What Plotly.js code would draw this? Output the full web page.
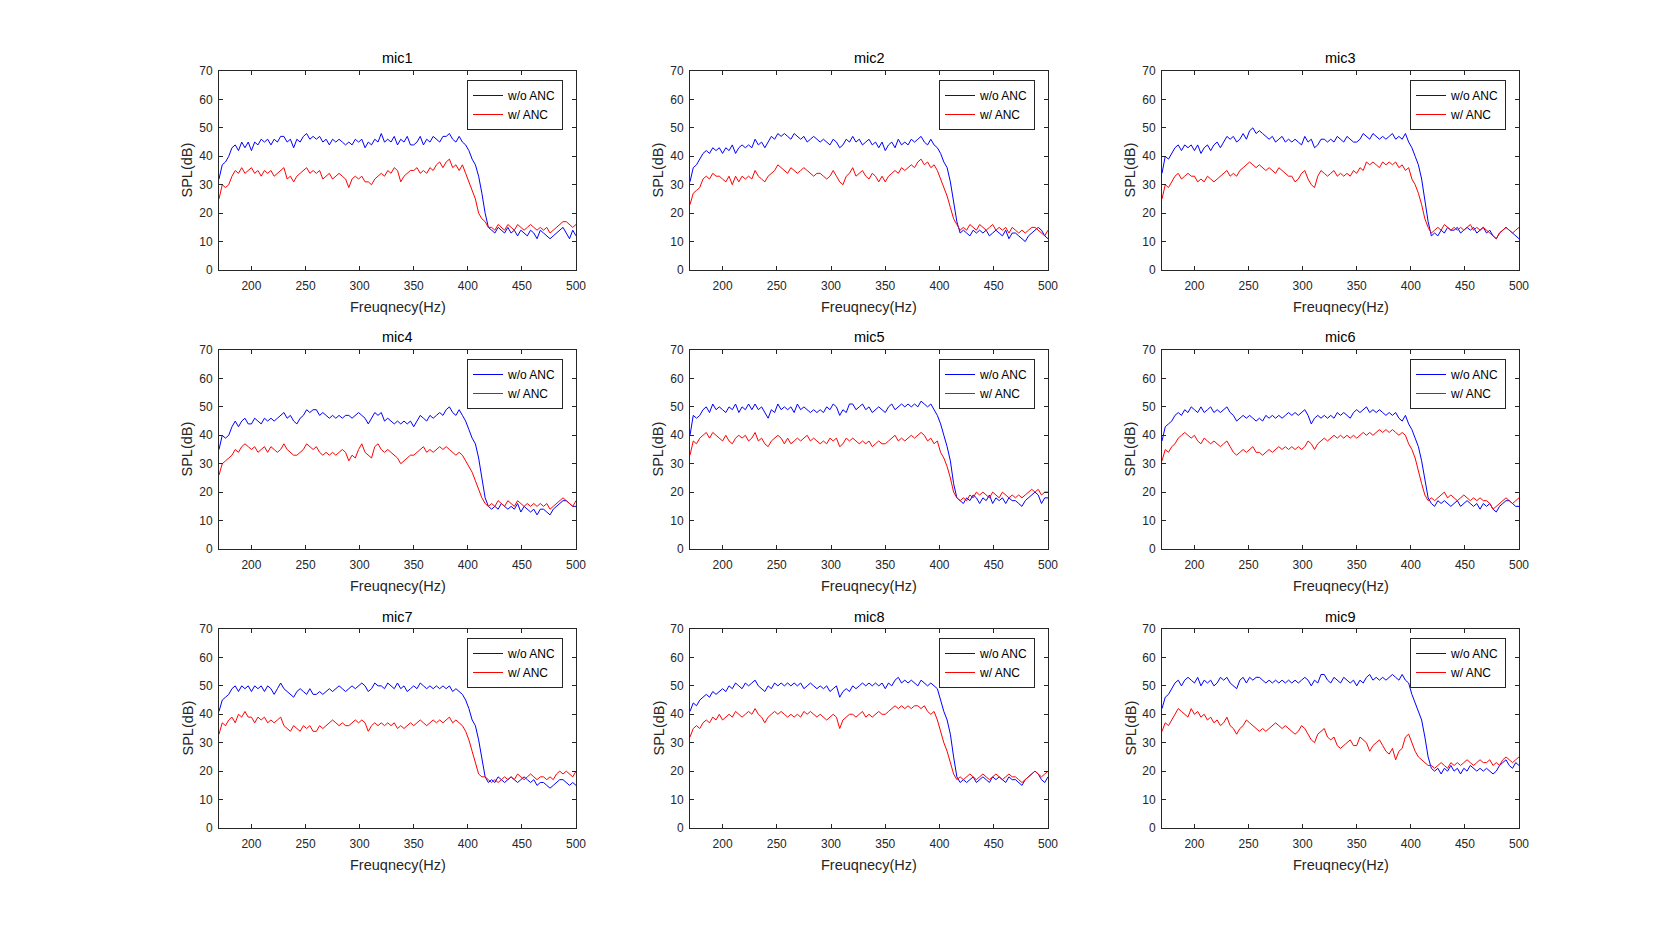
<!DOCTYPE html>
<html>
<head>
<meta charset="utf-8">
<script src="https://cdn.plot.ly/plotly-3.0.1.min.js"></script>
<style>html,body{margin:0;padding:0;background:#fff;}#chart{width:1680px;height:932px;}</style>
</head>
<body>
<div id="chart"></div>
<script>
// Frequency axis (Hz)
const freq = [170,173,176,179,182,185,188,191,194,197,200,203,206,209,212,215,218,221,224,227,230,233,236,239,242,245,248,251,254,257,260,263,266,269,272,275,278,281,284,287,290,293,296,299,302,305,308,311,314,317,320,323,326,329,332,335,338,341,344,347,350,353,356,359,362,365,368,371,374,377,380,383,386,389,392,395,398,401,404,407,410,413,416,419,422,425,428,431,434,437,440,443,446,449,452,455,458,461,464,467,470,473,476,479,482,485,488,491,494,497,500];

const micNames = ["mic1","mic2","mic3","mic4","mic5","mic6","mic7","mic8","mic9"];
const seriesNames = ["w/o ANC","w/ ANC"];
const xTicks = [200,250,300,350,400,450,500];
const yTicks = [0,10,20,30,40,50,60,70];

const mic1_woANC = [32,37,38,40,43,44,42,45,43,45, 42,45,44,46,45,46,44,46,45,47, 47,45,46,43,46,45,47,48,46,47, 46,47,45,46,44,46,45,46,45,44, 45,44,46,45,46,43,45,44,46,45, 48,45,46,45,47,44,46,45,47,44, 44,45,47,44,46,45,47,46,45,47, 47,48,46,45,47,45,44,42,39,37, 33,27,20,15,14,13,15,14,13,15, 13,14,12,14,13,12,14,13,11,14, 13,12,11,12,13,14,15,13,11,14, 12];
const mic1_wANC = [25,30,29,30,33,35,34,36,34,35, 36,34,35,33,35,34,35,33,34,35, 36,32,33,31,33,34,35,36,34,35, 34,35,32,33,34,32,33,34,33,32, 29,32,33,32,33,31,31,30,32,33, 34,33,35,34,36,35,31,33,34,35, 35,36,34,35,34,36,35,37,38,36, 38,39,36,37,35,37,34,31,28,25, 20,18,17,15,15,14,16,15,14,16, 15,14,16,15,14,15,16,15,14,15, 14,15,13,14,15,16,17,17,16,15, 16];

const mic2_woANC = [31,36,37,39,41,42,41,43,42,43, 41,43,42,44,41,43,44,43,44,43, 46,44,45,43,45,47,46,48,47,48, 47,46,48,47,46,47,45,46,47,46, 45,46,45,44,46,45,43,44,46,45, 47,45,46,44,45,46,44,45,43,45, 42,44,45,43,46,44,45,44,46,45, 46,47,45,44,46,44,43,41,38,36, 31,24,17,13,14,13,12,14,13,14, 13,14,12,13,14,13,12,14,11,13, 13,12,11,10,12,13,14,15,14,12, 11];
const mic2_wANC = [23,27,28,29,32,33,32,34,33,33, 32,31,33,30,33,31,33,32,33,32, 35,33,32,31,33,34,35,37,36,35, 34,36,35,34,35,36,35,34,33,34, 34,33,32,33,35,33,31,30,33,34, 36,33,34,35,33,32,34,33,31,33, 31,33,34,35,34,36,35,36,37,36, 38,39,37,38,36,37,35,32,29,26, 22,18,16,14,15,14,16,15,14,16, 15,14,15,16,14,15,14,15,13,15, 14,13,14,13,14,15,15,14,13,12, 14];

const mic3_woANC = [34,40,39,41,43,44,42,44,43,44, 42,44,41,43,44,42,44,45,43,45, 47,46,47,45,46,48,46,49,50,48, 49,48,47,46,47,45,46,47,45,46, 45,46,45,44,47,45,46,43,44,46, 46,45,46,45,47,46,45,47,46,45, 45,46,48,47,46,48,47,46,47,46, 47,48,46,47,46,48,45,43,40,37, 32,24,17,12,13,12,14,13,15,14, 14,15,13,14,15,14,15,13,14,15, 13,14,12,11,13,14,15,14,13,12, 11];
const mic3_wANC = [25,30,29,31,33,34,32,33,34,33, 33,31,32,31,33,32,31,32,33,34, 35,33,34,33,35,36,37,38,37,36, 37,36,35,36,35,34,36,35,34,33, 33,31,32,34,35,32,30,29,33,35, 34,33,34,35,33,34,33,34,33,35, 34,36,35,38,37,38,37,36,38,37, 38,37,38,36,37,35,36,32,30,27, 23,18,15,13,14,15,14,16,15,14, 15,14,15,14,15,16,14,15,14,15, 14,13,12,11,13,14,15,14,13,14, 15];

const mic4_woANC = [35,40,39,40,43,45,43,45,46,44, 44,46,45,44,46,45,46,45,46,47, 48,46,47,45,44,46,47,49,48,49, 49,47,48,47,46,47,46,47,46,47, 47,46,47,48,47,46,44,46,48,47, 48,45,46,45,44,45,44,45,44,45, 43,45,47,46,45,47,46,47,48,47, 49,50,48,47,49,47,45,42,39,37, 32,25,18,15,14,15,14,16,15,14, 15,14,16,13,15,14,13,14,12,14, 14,13,12,14,15,16,17,17,16,15, 15];
const mic4_wANC = [26,30,31,32,33,35,34,36,37,36, 35,36,34,35,36,34,36,35,34,35, 37,35,34,33,33,34,35,37,36,35, 36,34,33,34,33,34,33,34,35,34, 31,33,32,35,37,34,33,32,36,37, 35,34,35,34,33,32,30,31,32,33, 33,34,35,36,34,35,34,35,36,35, 36,35,34,33,34,33,31,29,27,24, 21,18,16,15,16,15,17,16,15,17, 16,15,17,16,15,16,15,16,15,16, 15,16,14,15,16,17,18,17,16,15, 17];

const mic5_woANC = [40,47,46,47,49,50,48,51,49,50, 49,48,50,49,51,48,50,49,51,49, 51,49,50,48,46,49,48,51,49,50, 49,50,48,51,49,50,49,48,49,48, 49,48,50,49,51,50,47,49,48,51, 51,49,50,51,49,50,48,49,50,49, 48,50,51,49,50,51,50,51,50,51, 50,52,51,50,51,49,47,44,40,36, 31,23,18,17,16,18,17,19,18,16, 18,17,19,16,18,17,18,16,18,17, 17,16,15,17,18,19,20,19,16,18, 18];
const mic5_wANC = [33,38,37,39,40,41,39,41,40,39, 38,40,38,37,39,40,39,40,38,39, 41,38,39,37,36,38,39,40,39,37, 39,37,38,39,38,39,40,38,39,38, 37,38,37,39,38,39,36,37,39,38, 39,38,37,38,37,38,36,37,38,37, 37,38,39,40,38,39,38,39,40,39, 40,41,40,38,39,37,38,34,32,29, 25,20,18,17,18,17,19,18,20,19, 20,19,18,20,19,18,20,19,18,19, 18,19,18,19,20,21,20,21,19,20, 20];

const mic6_woANC = [38,43,44,45,47,48,47,49,48,50, 49,48,50,48,49,50,48,49,48,49, 50,48,47,45,46,47,46,47,46,45, 46,45,47,46,47,46,47,46,47,48, 47,48,47,48,49,47,44,46,47,46, 47,46,47,46,48,47,48,47,46,48, 49,48,49,50,48,49,48,49,48,47, 48,47,48,46,45,47,44,42,39,36, 31,24,18,16,15,17,16,17,16,15, 16,17,15,16,17,16,15,16,14,16, 15,16,14,13,15,16,17,17,16,15, 15];
const mic6_wANC = [31,35,34,36,37,39,40,41,40,39, 40,38,37,39,38,37,38,37,36,37, 38,36,34,33,34,35,34,35,36,34, 34,33,34,35,34,35,36,35,36,35, 36,35,36,35,36,38,37,35,37,38, 39,38,39,40,39,40,39,40,39,40, 39,40,41,40,41,40,41,42,41,42, 41,42,41,40,41,40,37,35,32,27, 23,19,17,18,17,18,19,20,18,19, 18,17,18,19,18,17,18,17,18,17, 17,16,14,15,16,17,18,17,16,17, 18];

const mic7_woANC = [41,45,46,47,49,50,48,50,49,50, 48,50,49,50,48,50,49,47,49,51, 49,48,47,46,48,49,48,47,49,47, 47,48,47,48,49,48,49,50,49,48, 49,50,49,50,51,50,48,49,51,50, 50,49,51,50,49,51,49,50,48,49, 50,49,51,50,49,50,49,50,49,50, 49,50,48,49,48,47,45,42,38,36, 31,24,18,16,17,16,18,17,16,17, 18,17,16,17,18,17,16,17,15,16, 16,15,14,15,16,17,17,16,15,16, 15];
const mic7_wANC = [33,37,36,38,39,37,40,39,41,39, 39,37,39,38,39,37,38,37,38,39, 36,35,34,36,35,34,36,35,36,34, 34,36,35,36,37,38,37,36,37,36, 36,37,38,37,38,37,34,36,37,36, 37,36,37,36,37,35,36,35,36,37, 36,37,38,37,36,37,38,37,38,37, 38,39,37,38,37,36,34,31,27,23, 19,18,18,17,16,17,16,17,18,17, 18,17,19,18,17,18,19,18,17,18, 18,17,18,17,19,20,19,20,19,18, 20];

const mic8_woANC = [41,44,43,45,46,47,46,48,47,48, 49,48,50,49,51,50,49,51,50,51, 52,50,49,48,50,49,51,50,51,50, 51,50,51,50,51,49,50,51,50,49, 50,49,50,48,49,50,46,48,49,48, 50,49,50,51,50,51,50,51,50,51, 49,51,50,52,53,51,52,51,52,51, 50,52,51,50,51,50,49,45,41,38, 33,25,18,16,17,16,17,18,16,17, 18,17,16,18,17,18,17,16,18,17, 17,16,15,17,18,19,20,19,17,16, 18];
const mic8_wANC = [32,35,36,35,37,38,37,39,38,40, 38,39,40,39,41,40,39,40,41,40, 42,40,39,37,39,40,41,40,41,40, 39,40,39,40,39,41,40,41,40,39, 40,39,38,39,40,39,35,38,39,40, 40,39,40,41,39,40,39,40,41,40, 40,41,42,43,42,43,42,43,42,43, 43,42,43,41,40,41,38,34,30,27, 23,19,17,18,17,18,19,18,17,18, 19,18,17,18,19,18,17,18,19,18, 18,17,16,17,18,19,20,19,18,19, 20];

const mic9_woANC = [42,46,47,49,51,52,50,52,53,52, 51,53,50,52,51,52,50,51,53,52, 53,51,50,49,52,53,51,53,52,53, 53,52,51,52,51,52,51,52,51,52, 51,52,51,52,53,52,50,52,51,54, 54,52,51,53,52,51,53,52,51,52, 50,52,51,53,54,52,53,52,53,52, 53,54,53,52,54,52,51,47,44,41, 38,32,25,21,20,21,19,21,20,22, 20,21,19,21,20,22,21,20,21,20, 21,20,19,20,22,23,24,22,21,23, 22];
const mic9_wANC = [34,37,36,38,40,42,41,40,39,42, 40,41,39,40,38,39,37,38,36,37, 39,36,35,33,35,36,38,37,36,35, 34,35,34,35,36,37,36,35,36,35, 34,33,34,36,35,33,31,30,33,34, 35,32,31,32,29,28,29,30,31,29, 29,32,31,30,27,29,30,31,29,27, 26,28,24,27,28,32,33,30,27,25, 24,23,22,22,21,22,23,22,21,23, 22,23,22,23,24,23,22,23,24,23, 23,24,22,23,22,24,25,24,23,24, 25];

const woANC = [mic1_woANC,mic2_woANC,mic3_woANC,mic4_woANC,mic5_woANC,mic6_woANC,mic7_woANC,mic8_woANC,mic9_woANC];
const wANC  = [mic1_wANC,mic2_wANC,mic3_wANC,mic4_wANC,mic5_wANC,mic6_wANC,mic7_wANC,mic8_wANC,mic9_wANC];

// Layout geometry (pixels in a 1680x932 figure)
const W = 1680, H = 932;
const colPx = [[219,576],[690,1048],[1162,1519]];
const rowPx = [[71,270],[350,549],[629,828]];
const px = x => x / W;
const py = y => 1 - y / H;

const axisColor = "#262626";
const fontFam = "'Liberation Sans', Arial, Helvetica, sans-serif";

const traces = [];
const layout = {
  width: W, height: H,
  margin: {l:0, r:0, t:0, b:0},
  paper_bgcolor: "#ffffff",
  plot_bgcolor: "#ffffff",
  font: {family: fontFam, color: axisColor, size: 12},
  showlegend: true,
  annotations: []
};

for (let k = 0; k < 9; k++) {
  const r = Math.floor(k / 3), c = k % 3;
  const sfx = k === 0 ? "" : String(k + 1);
  const [x0, x1] = colPx[c];
  const [y0, y1] = rowPx[r];
  const legName = "legend" + sfx;

  traces.push({
    x: freq, y: woANC[k], type: "scatter", mode: "lines",
    name: seriesNames[0], line: {color: "#0000ff", width: 1},
    xaxis: "x" + sfx, yaxis: "y" + sfx, legend: legName, hoverinfo: "skip"
  });
  traces.push({
    x: freq, y: wANC[k], type: "scatter", mode: "lines",
    name: seriesNames[1], line: {color: "#ff0000", width: 1},
    xaxis: "x" + sfx, yaxis: "y" + sfx, legend: legName, hoverinfo: "skip"
  });

  layout["xaxis" + sfx] = {
    domain: [px(x0), px(x1)], anchor: "y" + sfx,
    range: [170, 500], tickmode: "array", tickvals: xTicks, ticktext: xTicks.map(String),
    showgrid: false, zeroline: false, showline: true, linecolor: axisColor, linewidth: 1,
    mirror: "ticks", ticks: "inside", ticklen: 4, tickcolor: axisColor, tickwidth: 1,
    ticklabelstandoff: 5,
    tickfont: {size: 12, color: axisColor, family: fontFam}, fixedrange: true
  };
  layout["yaxis" + sfx] = {
    domain: [py(y1), py(y0)], anchor: "x" + sfx,
    range: [0, 70], tickmode: "array", tickvals: yTicks, ticktext: yTicks.map(String),
    showgrid: false, zeroline: false, showline: true, linecolor: axisColor, linewidth: 1,
    mirror: "ticks", ticks: "inside", ticklen: 4, tickcolor: axisColor, tickwidth: 1,
    ticklabelstandoff: 3,
    tickfont: {size: 12, color: axisColor, family: fontFam}, fixedrange: true
  };

  layout[legName] = {
    x: px(x1 - 13), y: py(y0 + 9), xanchor: "right", yanchor: "top",
    xref: "paper", yref: "paper",
    bgcolor: "#ffffff", bordercolor: "#262626", borderwidth: 1,
    font: {size: 12, color: "#000000", family: fontFam},
    tracegroupgap: 0, traceorder: "normal", itemwidth: 30
  };

  // subplot title
  layout.annotations.push({
    text: micNames[k], xref: "paper", yref: "paper",
    x: px((x0 + x1) / 2), y: py(y0 - 12.5), xanchor: "center", yanchor: "middle",
    showarrow: false, font: {size: 14.5, color: "#000000", family: fontFam, weight: "normal"}
  });
  // x-axis title
  layout.annotations.push({
    text: "Freuqnecy(Hz)", xref: "paper", yref: "paper",
    x: px((x0 + x1) / 2), y: py(y1 + 36.5), xanchor: "center", yanchor: "middle",
    showarrow: false, font: {size: 14.5, color: axisColor, family: fontFam}
  });
  // y-axis title
  layout.annotations.push({
    text: "SPL(dB)", xref: "paper", yref: "paper", textangle: -90,
    x: px(x0 - 32), y: py((y0 + y1) / 2), xanchor: "center", yanchor: "middle",
    showarrow: false, font: {size: 14.5, color: axisColor, family: fontFam}
  });
}

Plotly.newPlot("chart", traces, layout, {staticPlot: true, displayModeBar: false});
</script>
</body>
</html>
